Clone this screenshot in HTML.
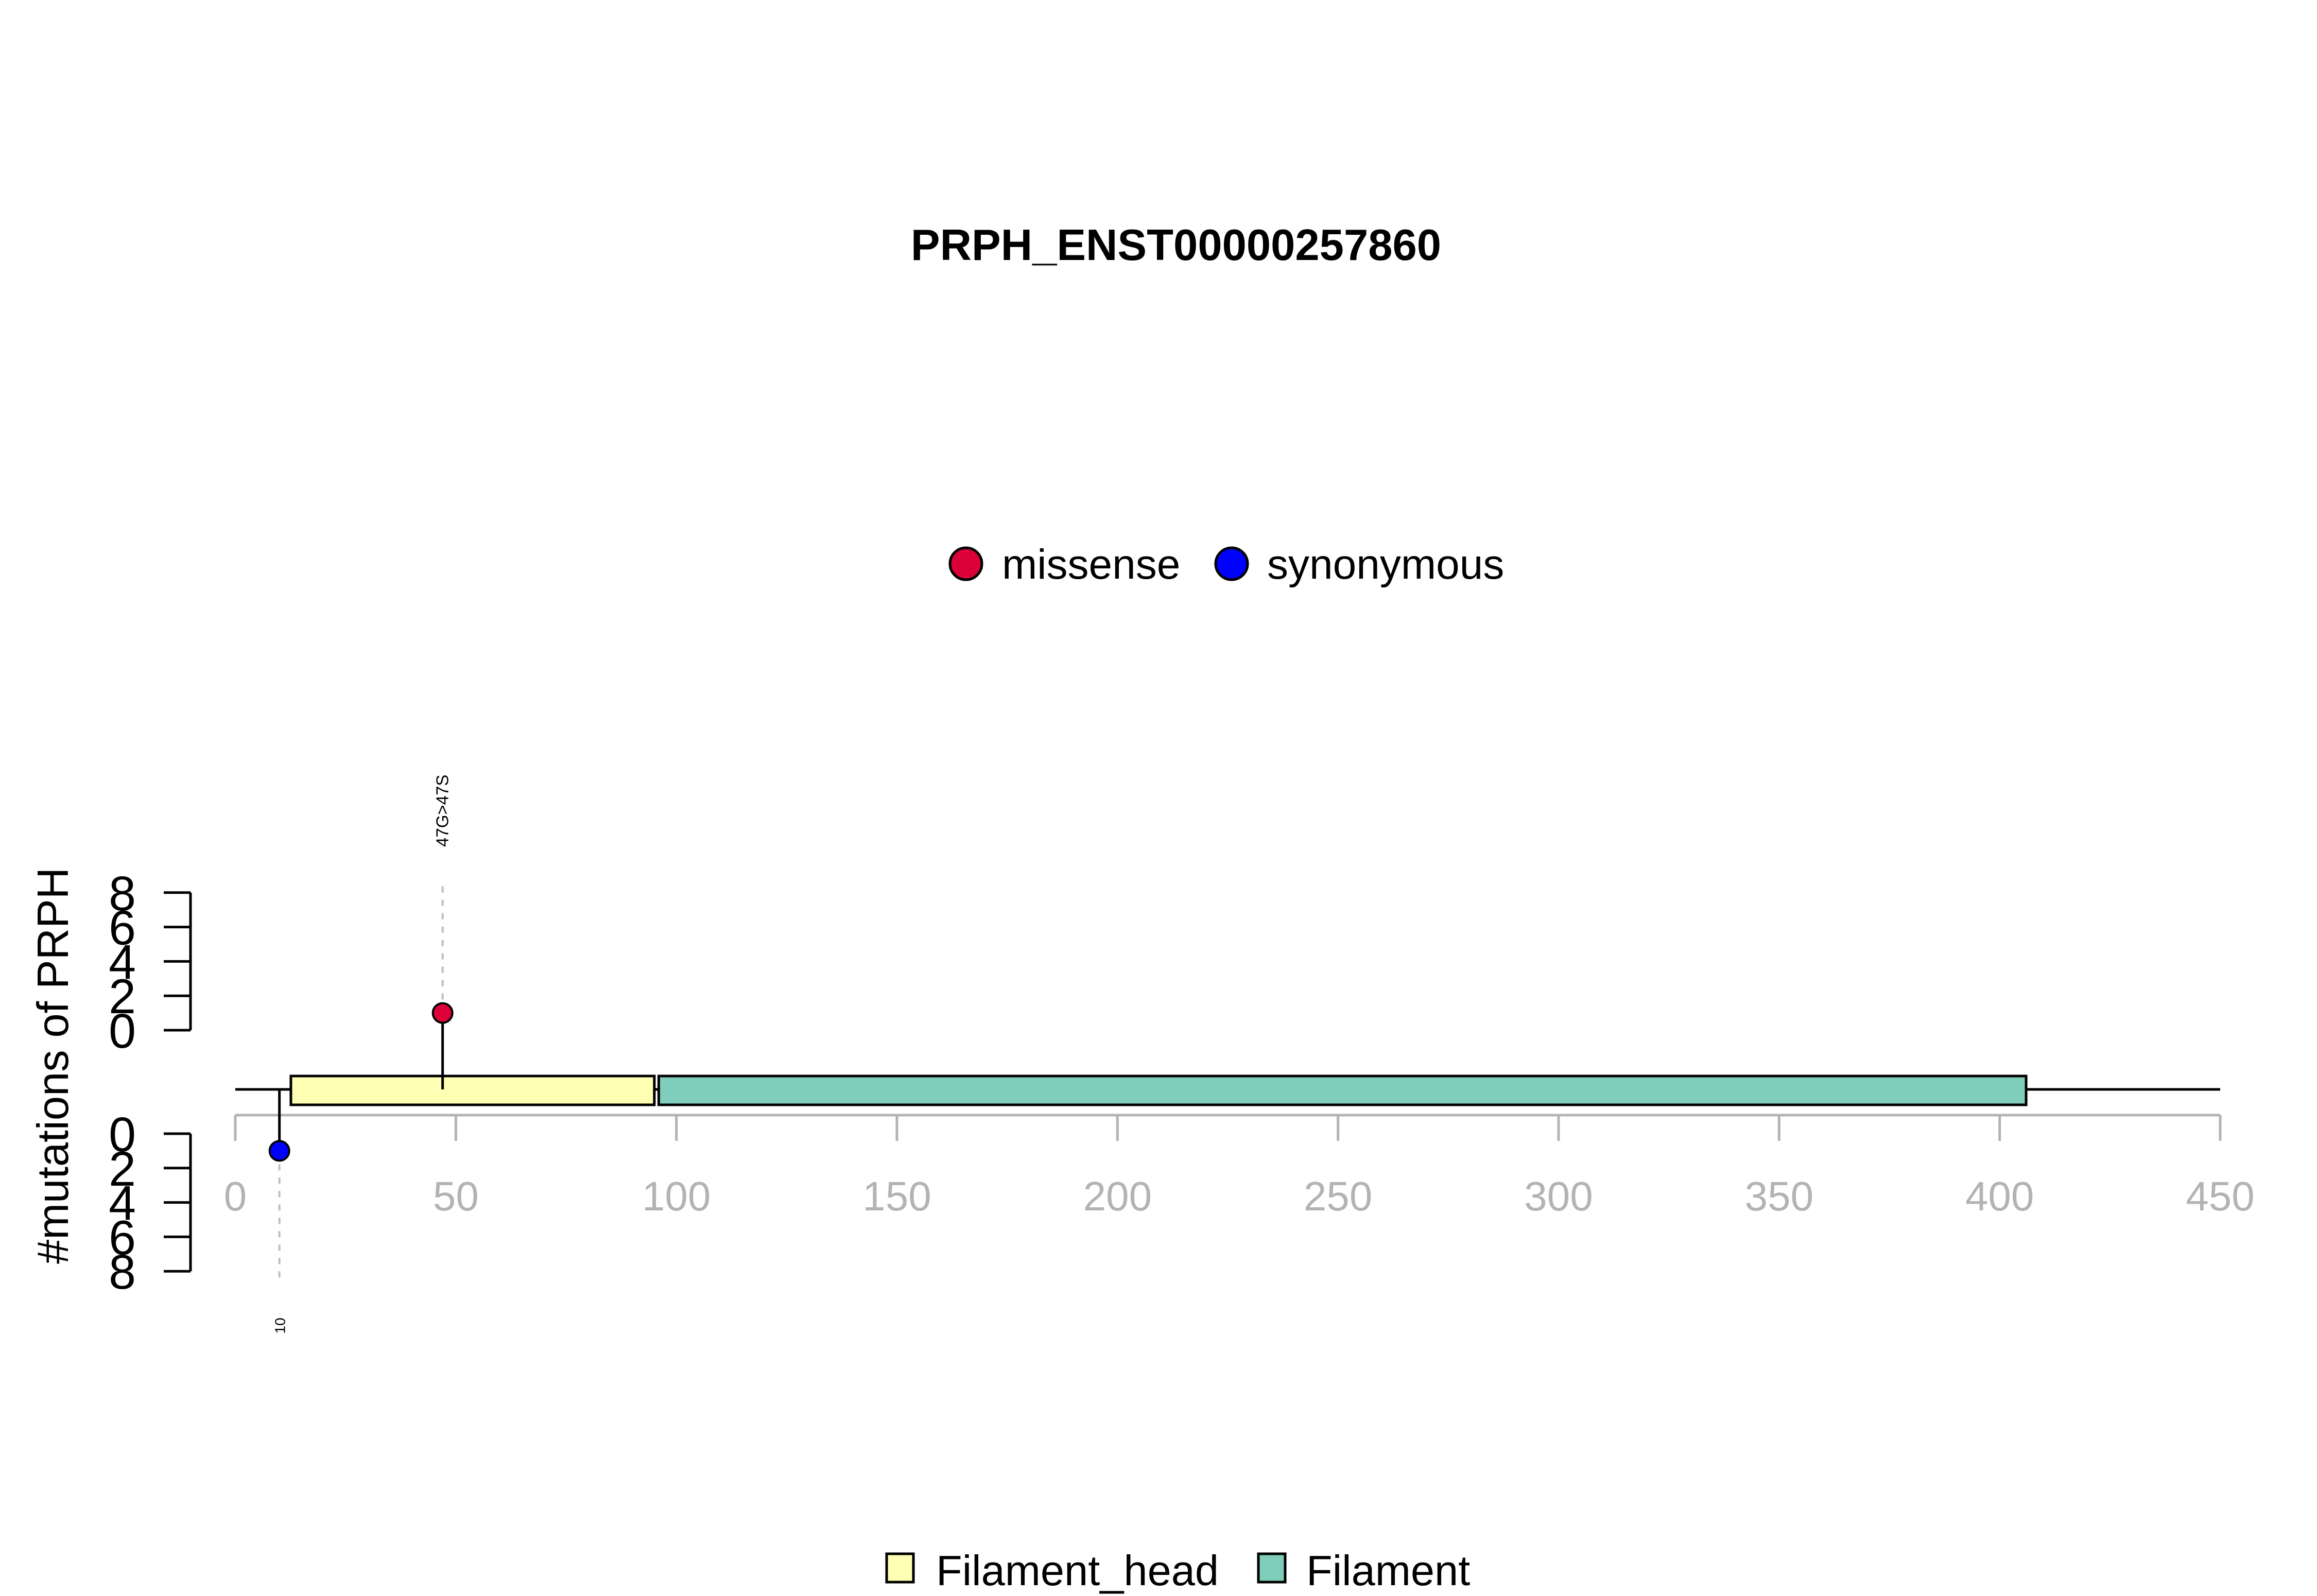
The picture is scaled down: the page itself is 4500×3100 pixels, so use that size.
<!DOCTYPE html>
<html><head><meta charset="utf-8"><style>
html,body{margin:0;padding:0;background:#fff;}
svg{display:block;font-family:"Liberation Sans",Arial,sans-serif;}
</style></head><body>
<svg id="chart" width="4500" height="3100" viewBox="0 0 4500 3100" xmlns="http://www.w3.org/2000/svg">
<rect width="4500" height="3100" fill="#fff"/>
<text x="2284" y="505" font-size="85" font-weight="bold" text-anchor="middle">PRPH_ENST00000257860</text>
<g>
  <circle cx="1876" cy="1095" r="31" fill="#DC0038" stroke="#000" stroke-width="5"/>
  <text x="1946" y="1124" font-size="82">missense</text>
  <circle cx="2392" cy="1095" r="31" fill="#0000FF" stroke="#000" stroke-width="5"/>
  <text x="2461" y="1124" font-size="82">synonymous</text>
</g>
<g>
  <rect x="1722" y="3018" width="52" height="55" fill="#FFFFB3" stroke="#000" stroke-width="5"/>
  <text x="1818" y="3079" font-size="83">Filament_head</text>
  <rect x="2444" y="3018" width="52" height="55" fill="#7FCDBB" stroke="#000" stroke-width="5"/>
  <text x="2537" y="3079" font-size="83">Filament</text>
</g>
<text x="0" y="0" font-size="85" text-anchor="middle" transform="translate(132,2070) rotate(-90)">#mutations of PRPH</text>
<g id="plot"></g>
</svg>
<script>
const xTicks = [0, 50, 100, 150, 200, 250, 300, 350, 400, 450];
const yTicks = [0, 2, 4, 6, 8];
const domainNames = ["Filament_head", "Filament"];
const domainStarts = [12.6, 96];
const domainEnds = [95, 406];
const domainColors = ["#FFFFB3", "#7FCDBB"];
const mutPositions = [47, 10];
const mutCounts = [1, 1];
const mutLabels = ["47G>47S", "10"];
const mutTypes = ["missense", "synonymous"];
const proteinLength = 450;

const NS = "http://www.w3.org/2000/svg";
const plot = document.getElementById("plot");
function X(v){ return 457 + v * (4312 - 457) / 450; }
function yUp(v){ return 2001 - v * 33.4; }
function yLow(v){ return 2202 + v * 33.4; }
function mk(tag, attrs, parent){
  const e = document.createElementNS(NS, tag);
  for (const k in attrs) e.setAttribute(k, attrs[k]);
  (parent || plot).appendChild(e);
  return e;
}
const backboneY = 2116;

// x axis
const xa = mk("g", {});


const xl = mk("line", {x1: X(0), x2: X(proteinLength), y1: 2166, y2: 2166, stroke: "#B3B3B3", "stroke-width": 5}, xa);


xTicks.forEach(function(t){
  const tk = mk("line", {x1: X(t), x2: X(t), y1: 2166, y2: 2216, stroke: "#B3B3B3", "stroke-width": 5}, xa);
  
  
  const lb = mk("text", {x: X(t), y: 2351, "font-size": 80, fill: "#B3B3B3", "text-anchor": "middle"}, xa);
  
  
  lb.textContent = t;
});

// y axes (upper and lower)
[["upper", yUp], ["lower", yLow]].forEach(function(p){
  const g = mk("g", {});
  
  
  const f = p[1];
  const vl = mk("line", {x1: 370, x2: 370, y1: f(0), y2: f(8), stroke: "#000", "stroke-width": 5}, g);
  
  
  yTicks.forEach(function(t){
    const tk = mk("line", {x1: 318, x2: 370, y1: f(t), y2: f(t), stroke: "#000", "stroke-width": 5}, g);
    
    
    const lb = mk("text", {x: 264, y: f(t) + 34, "font-size": 95, "text-anchor": "end"}, g);
    
    
    lb.textContent = t;
  });
});

// backbone
const bb = mk("line", {x1: X(0), x2: X(proteinLength), y1: backboneY, y2: backboneY, stroke: "#000", "stroke-width": 5});



// domains
domainNames.forEach(function(n, i){
  const r = mk("rect", {x: X(domainStarts[i]), y: 2090, width: X(domainEnds[i]) - X(domainStarts[i]), height: 56, fill: domainColors[i], stroke: "#000", "stroke-width": 5});
  
  
});

// mutations
mutPositions.forEach(function(pos, i){
  const up = mutTypes[i] === "missense";
  const x = X(pos);
  const py = up ? yUp(mutCounts[i]) : yLow(mutCounts[i]);
  const g = mk("g", {});
  
  
  const d = mk("line", {x1: x, x2: x, y1: py, y2: up ? 1715 : 2488, stroke: "#BEBEBE", "stroke-width": 4, "stroke-dasharray": "12,14"}, g);
  
  
  const s = mk("line", {x1: x, x2: x, y1: backboneY, y2: py, stroke: "#000", "stroke-width": 5}, g);
  
  
  const c = mk("circle", {cx: x, cy: py, r: 19, fill: up ? "#DC0038" : "#0000FF", stroke: "#000", "stroke-width": 4}, g);
  
  
  const ly = up ? 1645 : 2575;
  const t = mk("text", {x: 0, y: 0, "font-size": up ? 33 : 28, "text-anchor": up ? "start" : "middle", transform: "translate(" + (x + 11) + "," + ly + ") rotate(-90)"}, g);
  
  
  t.textContent = mutLabels[i];
});
</script>
</body></html>
